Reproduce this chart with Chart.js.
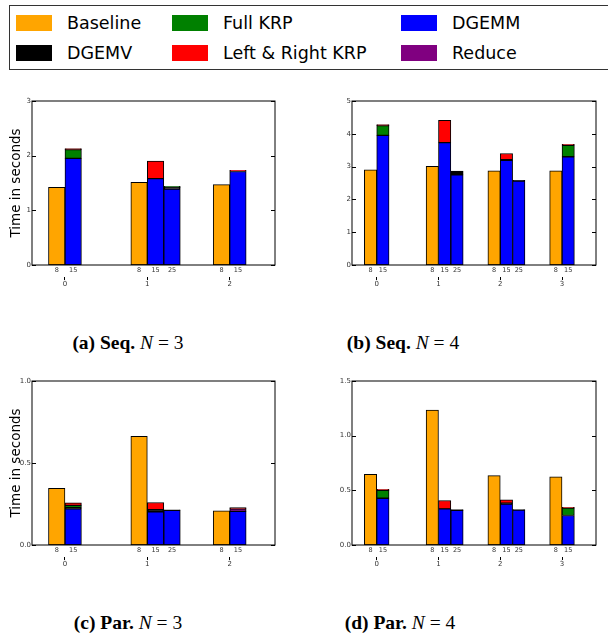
<!DOCTYPE html>
<html lang="en">
  <head>
    <meta charset="utf-8" />
    <title>Time breakdown</title>
    <script src="https://cdn.jsdelivr.net/npm/chart.js"></script>
    <style>
      body {
        margin: 0;
        width: 608px;
        height: 634px;
        background: #ffffff;
        position: relative;
        overflow: hidden;
        font-family: "DejaVu Sans", sans-serif;
      }
      #legend {
        position: absolute;
        left: 9px;
        top: 5px;
        width: 620px;
        height: 65px;
        border: 1px solid #333;
        box-sizing: border-box;
      }
      .item {
        position: absolute;
        font-size: 17.5px;
        line-height: 20px;
        color: #000;
        white-space: nowrap;
      }
      .item span {
        position: absolute;
        left: -51px;
        top: 2px;
        width: 36px;
        height: 16px;
      }
      canvas {
        position: absolute;
      }
      .caption {
        position: absolute;
        width: 240px;
        text-align: center;
        font-family: "Liberation Serif", serif;
        font-size: 19.5px;
        line-height: 19px;
        color: #000;
        white-space: nowrap;
      }
    </style>
  </head>
  <body>
    <div id="legend"></div>

    <canvas id="chartA" width="290" height="200"></canvas>
    <canvas id="chartB" width="308" height="200"></canvas>
    <canvas id="chartC" width="290" height="200"></canvas>
    <canvas id="chartD" width="308" height="200"></canvas>

    <div class="caption" style="left: 8px; top: 333px"><b>(a) Seq.</b> <i>N</i> = 3</div>
    <div class="caption" style="left: 283px; top: 333px"><b>(b) Seq.</b> <i>N</i> = 4</div>
    <div class="caption" style="left: 8px; top: 613px"><b>(c) Par.</b> <i>N</i> = 3</div>
    <div class="caption" style="left: 280px; top: 613px"><b>(d) Par.</b> <i>N</i> = 4</div>

    <script>
      // one slot per (group, version): versions 8, 15, 25
      const versions = ["8", "15", "25"];
      const groups3 = ["0", "1", "2"];
      const groups4 = ["0", "1", "2", "3"];
      const _ = null;

      // (a) Seq. N = 3
      const seq3Baseline = [1.42, _, _, 1.51, _, _, 1.47, _, _];
      const seq3Dgemm = [_, 1.95, _, _, 1.58, 1.39, _, 1.71, _];
      const seq3Dgemv = [_, _, _, _, _, 0.03, _, 0.01, _];
      const seq3FullKrp = [_, 0.16, _, _, _, 0.02, _, _, _];
      const seq3Reduce = [_, _, _, _, _, _, _, _, _];
      const seq3LrKrp = [_, 0.02, _, _, 0.32, _, _, 0.01, _];

      // (b) Seq. N = 4
      const seq4Baseline = [2.9, _, _, 3.01, _, _, 2.87, _, _, 2.87, _, _];
      const seq4Dgemm = [_, 3.95, _, _, 3.73, 2.75, _, 3.19, 2.56, _, 3.3, _];
      const seq4Dgemv = [_, _, _, _, _, 0.11, _, 0.02, 0.02, _, _, _];
      const seq4FullKrp = [_, 0.3, _, _, _, _, _, _, _, _, 0.35, _];
      const seq4Reduce = [_, _, _, _, _, _, _, _, _, _, _, _];
      const seq4LrKrp = [_, 0.03, _, _, 0.68, _, _, 0.19, _, _, 0.03, _];

      // (c) Par. N = 3
      const par3Baseline = [0.345, _, _, 0.663, _, _, 0.208, _, _];
      const par3Dgemm = [_, 0.22, _, _, 0.202, 0.212, _, 0.205, _];
      const par3Dgemv = [_, 0.007, _, _, 0.014, 0.003, _, _, _];
      const par3FullKrp = [_, 0.015, _, _, _, _, _, _, _];
      const par3Reduce = [_, _, _, _, _, _, _, 0.015, _];
      const par3LrKrp = [_, 0.015, _, _, 0.043, _, _, 0.008, _];

      // (d) Par. N = 4
      const par4Baseline = [0.647, _, _, 1.233, _, _, 0.635, _, _, 0.623, _, _];
      const par4Dgemm = [_, 0.428, _, _, 0.331, 0.316, _, 0.375, 0.32, _, 0.27, _];
      const par4Dgemv = [_, _, _, _, _, 0.009, _, 0.008, 0.005, _, _, _];
      const par4FullKrp = [_, 0.072, _, _, _, _, _, _, _, _, 0.067, _];
      const par4Reduce = [_, _, _, _, _, _, _, _, _, _, _, _];
      const par4LrKrp = [_, 0.01, _, _, 0.076, _, _, 0.03, _, _, 0.008, _];

      // legend order (column-wise) and stacking order
      const legendNames = ["Baseline", "DGEMV", "Full KRP", "Left & Right KRP", "DGEMM", "Reduce"];
      const colors = {
        "Baseline": "#FFA500",
        "DGEMV": "#000000",
        "Full KRP": "#008000",
        "Left & Right KRP": "#FF0000",
        "DGEMM": "#0000FF",
        "Reduce": "#800080",
      };
      const stackOrder = ["Baseline", "DGEMM", "DGEMV", "Full KRP", "Reduce", "Left & Right KRP"];

      // build legend
      const legend = document.getElementById("legend");
      const legendCols = [57, 213, 442];
      const legendRows = [7, 37];
      legendNames.forEach((name, i) => {
        const div = document.createElement("div");
        div.className = "item";
        div.style.left = legendCols[Math.floor(i / 2)] + "px";
        div.style.top = legendRows[i % 2] + "px";
        div.innerHTML = '<span style="background:' + colors[name] + '"></span>';
        div.appendChild(document.createTextNode(name));
        legend.appendChild(div);
      });

      const offsets = [-0.1, 0.1, 0.3];

      const framePlugin = {
        id: "frame",
        afterDatasetsDraw(chart) {
          const { ctx, chartArea: a } = chart;
          const y = chart.scales.y;
          ctx.save();
          ctx.strokeStyle = "#000";
          ctx.lineWidth = 1;
          ctx.strokeRect(a.left, a.top, a.right - a.left, a.bottom - a.top);
          ctx.beginPath();
          y.ticks.forEach((t) => {
            const py = Math.round(y.getPixelForValue(t.value)) + 0.5;
            ctx.moveTo(a.left, py);
            ctx.lineTo(a.left + 4, py);
            ctx.moveTo(a.right, py);
            ctx.lineTo(a.right - 4, py);
          });
          ctx.stroke();
          ctx.restore();
        },
      };

      function makeChart(id, panel) {
        const n = panel.groups.length;
        const series = {
          "Baseline": panel.baseline,
          "DGEMV": panel.dgemv,
          "Full KRP": panel.fullKrp,
          "Left & Right KRP": panel.lrKrp,
          "DGEMM": panel.dgemm,
          "Reduce": panel.reduce,
        };

        const datasets = stackOrder.map((name) => {
          const points = [];
          series[name].forEach((v, idx) => {
            if (v !== null) {
              const g = Math.floor(idx / 3);
              points.push({ x: g + offsets[idx % 3], y: v });
            }
          });
          return {
            label: name,
            data: points,
            backgroundColor: colors[name],
            borderColor: "#000",
            borderWidth: 1,
            borderSkipped: false,
            barPercentage: 1,
            categoryPercentage: 1,
            stack: "s",
          };
        });

        // version tick labels where a bar exists
        const versionTicks = [];
        for (let idx = 0; idx < n * 3; idx++) {
          const used = Object.values(series).some((arr) => arr[idx] !== null);
          if (used) {
            versionTicks.push({
              value: Math.floor(idx / 3) + offsets[idx % 3],
              label: versions[idx % 3],
            });
          }
        }
        const groupTicks = panel.groups.map((g, i) => ({ value: i, label: g }));

        const el = document.getElementById(id);
        el.style.left = panel.left + "px";
        el.style.top = panel.top + "px";

        return new Chart(el, {
          type: "bar",
          data: { datasets: datasets },
          options: {
            responsive: false,
            animation: false,
            layout: { padding: { top: 6, right: panel.padRight, left: 0, bottom: 0 } },
            plugins: { legend: { display: false }, tooltip: { enabled: false } },
            scales: {
              x: {
                type: "linear",
                stacked: true,
                offset: false,
                min: -0.4,
                max: n - 0.45,
                weight: 0,
                grid: { display: false, drawTicks: false, offset: false },
                border: { display: false },
                afterBuildTicks: (s) => {
                  s.ticks = versionTicks.map((t) => ({ value: t.value }));
                },
                afterFit: (s) => {
                  s.height = 12;
                },
                ticks: {
                  autoSkip: false,
                  maxRotation: 0,
                  padding: 1,
                  color: "#333",
                  font: { family: "DejaVu Sans", size: 6.5 },
                  callback: (v, i) => versionTicks[i].label,
                },
              },
              x2: {
                type: "linear",
                position: "bottom",
                offset: false,
                min: -0.4,
                max: n - 0.45,
                weight: 1,
                grid: { display: true, offset: false, drawOnChartArea: false, drawTicks: true, tickLength: 3, color: "#000" },
                border: { display: false },
                afterBuildTicks: (s) => {
                  s.ticks = groupTicks.map((t) => ({ value: t.value }));
                },
                afterFit: (s) => {
                  s.height = 18;
                },
                ticks: {
                  autoSkip: false,
                  maxRotation: 0,
                  padding: 0,
                  color: "#333",
                  font: { family: "DejaVu Sans", size: 7 },
                  callback: (v, i) => groupTicks[i].label,
                },
              },
              y: {
                stacked: true,
                min: 0,
                max: panel.ymax,
                grid: { display: false, drawTicks: false },
                border: { display: false },
                afterFit: (s) => {
                  s.width = panel.axisW;
                },
                ticks: {
                  autoSkip: false,
                  stepSize: panel.step,
                  padding: 1,
                  color: "#333",
                  font: { family: "DejaVu Sans", size: 7 },
                  callback: (v) => v.toFixed(panel.decimals),
                },
                title: {
                  display: panel.title,
                  text: "Time in seconds",
                  color: "#000",
                  padding: { top: 8.4, bottom: 0 },
                  font: { family: "DejaVu Sans", size: 13.5 },
                },
              },
            },
          },
          plugins: [framePlugin],
        });
      }

      makeChart("chartA", {
        groups: groups3, baseline: seq3Baseline, dgemm: seq3Dgemm, dgemv: seq3Dgemv,
        fullKrp: seq3FullKrp, reduce: seq3Reduce, lrKrp: seq3LrKrp,
        left: 0, top: 95, axisW: 32, padRight: 15, ymax: 3, step: 1, decimals: 0, title: true,
      });
      makeChart("chartB", {
        groups: groups4, baseline: seq4Baseline, dgemm: seq4Dgemm, dgemv: seq4Dgemv,
        fullKrp: seq4FullKrp, reduce: seq4Reduce, lrKrp: seq4LrKrp,
        left: 300, top: 95, axisW: 52, padRight: 12, ymax: 5, step: 1, decimals: 0, title: false,
      });
      makeChart("chartC", {
        groups: groups3, baseline: par3Baseline, dgemm: par3Dgemm, dgemv: par3Dgemv,
        fullKrp: par3FullKrp, reduce: par3Reduce, lrKrp: par3LrKrp,
        left: 0, top: 375, axisW: 32, padRight: 15, ymax: 1.0, step: 0.5, decimals: 1, title: true,
      });
      makeChart("chartD", {
        groups: groups4, baseline: par4Baseline, dgemm: par4Dgemm, dgemv: par4Dgemv,
        fullKrp: par4FullKrp, reduce: par4Reduce, lrKrp: par4LrKrp,
        left: 300, top: 375, axisW: 52, padRight: 12, ymax: 1.5, step: 0.5, decimals: 1, title: false,
      });
    </script>
  </body>
</html>
